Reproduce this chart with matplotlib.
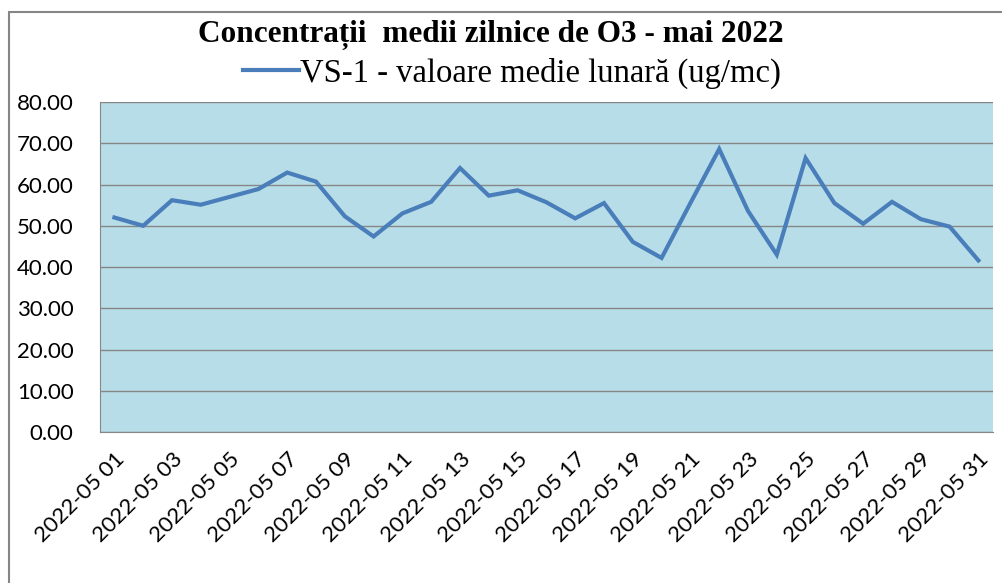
import matplotlib.pyplot as plt
from matplotlib.patches import Rectangle
from matplotlib.lines import Line2D

# date zilnice O3 - mai 2022
days = list(range(1, 32))
labels = ['2022-05 %02d' % d for d in days]
values = [52.0, 50.0, 56.2, 55.1, 57.0, 58.9, 62.9, 60.7, 52.3, 47.4,
          53.0, 55.8, 64.0, 57.3, 58.6, 55.7, 51.8, 55.5, 46.1, 42.2,
          55.5, 68.6, 53.6, 43.0, 66.4, 55.5, 50.5, 55.8, 51.6, 49.8, 41.6]

fig = plt.figure(figsize=(10.02, 5.83), dpi=100)
ax = fig.add_axes([0.0998, 0.259, 0.891, 0.566])

ax.set_facecolor('#B7DEE8')
ax.plot(days, values, color='#4A7EBB', lw=3, solid_joinstyle='miter', zorder=3)

ax.set_xlim(0.5, 31.5)
ax.set_ylim(0, 80)
ax.set_yticks(range(0, 81, 10))
ax.set_yticklabels(['%.2f' % v for v in range(0, 81, 10)])
ax.set_xticks(days[::2])
ax.set_xticklabels(labels[::2], rotation=45, ha='right', rotation_mode='anchor')
ax.grid(axis='y', color='#868686', lw=1)
ax.set_axisbelow(True)
ax.tick_params(axis='both', length=0, labelsize=16, colors='black')
ax.tick_params(axis='y', pad=19)
ax.tick_params(axis='x', pad=12)
for lab in ax.get_xticklabels() + ax.get_yticklabels():
    lab.set_family('Lato')
for s in ['top', 'right']:
    ax.spines[s].set_visible(False)
for s in ['left', 'bottom']:
    ax.spines[s].set_color('#868686')

# chenar exterior
fig.patches.append(Rectangle((9 / 1002, -0.01), 1.0, 1 - 12 / 583 + 0.01,
                             transform=fig.transFigure, fill=False,
                             edgecolor='#868686', lw=1.5))

fig.text(0.49, 0.94, 'Concentrații  medii zilnice de O3 - mai 2022',
         ha='center', va='center', fontsize=22.5, weight='bold',
         family='Liberation Serif')

handle = Line2D([], [], color='#4A7EBB', lw=3)
fig.legend([handle], ['VS-1 - valoare medie lunară (ug/mc)'],
           loc='center', bbox_to_anchor=(0.511, 0.874), frameon=False,
           handlelength=1.7, handletextpad=0.05,
           prop={'family': 'Liberation Serif', 'size': 23.5})

fig.savefig('out.png', dpi=100)
